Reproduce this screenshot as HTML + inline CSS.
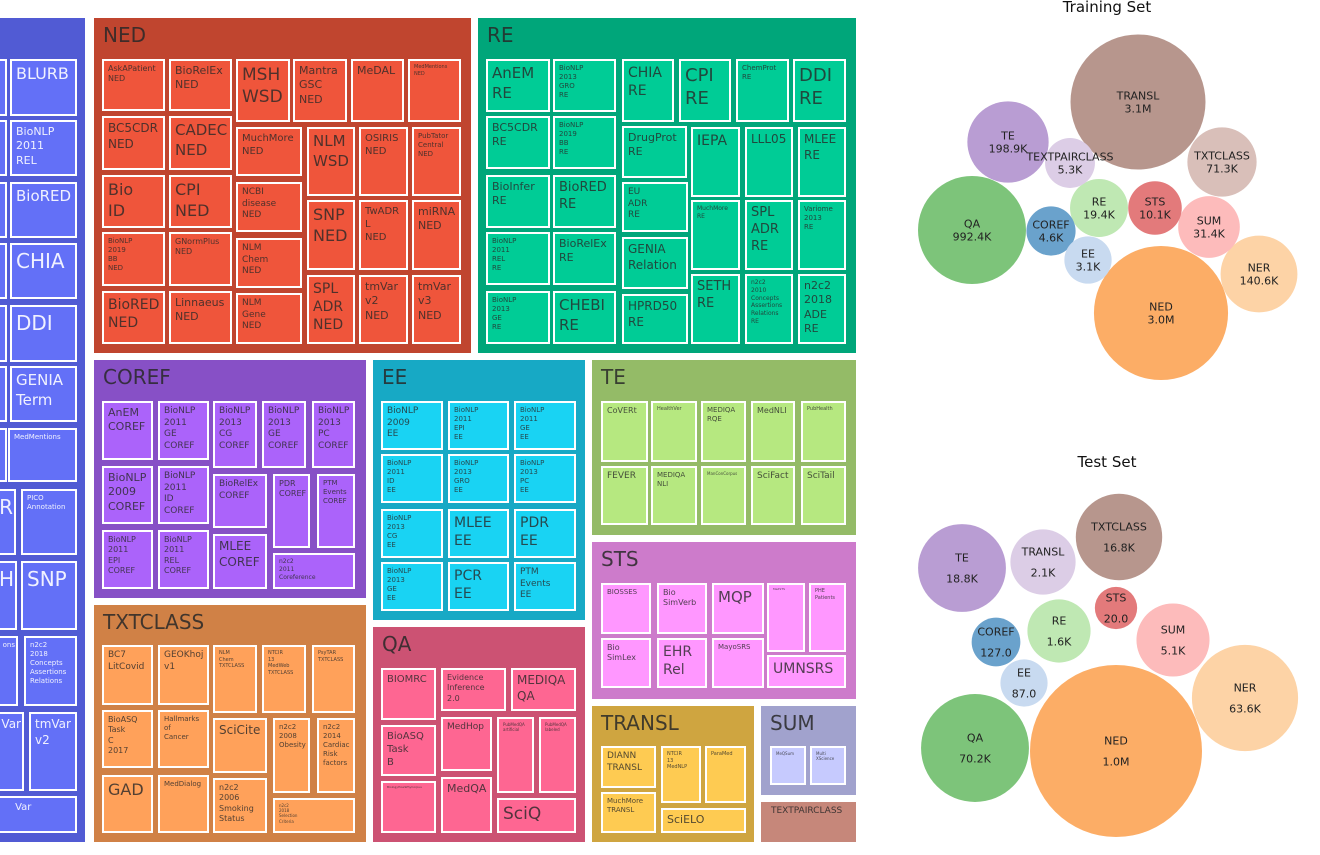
<!DOCTYPE html>
<html><head><meta charset="utf-8">
<style>
html,body{margin:0;padding:0;background:#fff;}
body{width:1320px;height:855px;position:relative;overflow:hidden;font-family:"DejaVu Sans","Liberation Sans",sans-serif;}
.g{position:absolute;box-sizing:border-box;}
.gt{position:absolute;left:9px;top:5px;font-size:20px;color:rgba(40,40,40,0.85);white-space:nowrap;}
.c{position:absolute;box-sizing:border-box;border:2px solid #fff;overflow:hidden;padding:3px 4px;line-height:1.3;color:rgba(40,40,40,0.8);white-space:pre;}
.c.ra{text-align:right;padding-right:1px;}
#bub{position:absolute;left:880px;top:0;}
</style></head><body>
<div id="tree"></div>
<svg id="bub" width="440" height="855"></svg>
<script>
// ---- treemap layout (group rectangles and tiles) ----
const groups=[
 {n:"NER",r:[-10,18,85,842],bg:"#515bd4",cc:"#6370f7",tc:"rgba(255,255,255,0.9)",title:"",kids:[
  [10,59,77,116,"BLURB",16],[-5,59,5,116,"",9],[10,120,77,176,"BioNLP\n2011\nREL",11],[-5,120,5,176,"",9],
  [10,182,77,238,"BioRED",15],[-5,182,5,238,"",9],[10,243,77,299,"CHIA",20],[-5,243,5,299,"",9],
  [10,305,77,362,"DDI",20],[-5,305,5,362,"",9],[10,366,77,422,"GENIA\nTerm",15],[-5,366,5,422,"",9],
  [8,428,77,482,"MedMentions",7],[-5,428,3,482,"",7],[-10,489,16,555,"R",20,1],[21,489,77,555,"PICO\nAnnotation",7],
  [-10,561,17,630,"H",20,1],[21,561,77,630,"SNP",20],[-10,636,18,706,"ons",7,1],[24,636,77,706,"n2c2\n2018\nConcepts\nAssertions\nRelations",7],
  [-10,712,24,791,"Var",12,1],[29,712,77,791,"tmVar\nv2",12],[-10,796,77,833,"      Var",10]]},
 {n:"NED",r:[94,18,471,353],bg:"#c0452f",cc:"#ef553b",title:"NED",kids:[
  [102,59,165,111,"AskAPatient\nNED",8],[102,116,165,170,"BC5CDR\nNED",12],[102,175,165,228,"Bio\nID",16],[102,232,165,286,"BioNLP\n2019\nBB\nNED",7],[102,291,165,344,"BioRED\nNED",14],
  [169,59,232,111,"BioRelEx\nNED",11],[169,116,232,170,"CADEC\nNED",15],[169,175,232,228,"CPI\nNED",16],[169,232,232,286,"GNormPlus\nNED",8],[169,291,232,344,"Linnaeus\nNED",11],
  [236,59,290,122,"MSH\nWSD",17],[293,59,347,122,"Mantra\nGSC\nNED",11],[351,59,404,122,"MeDAL",11],[408,59,461,122,"MedMentions\nNED",5],
  [236,127,302,176,"MuchMore\nNED",10],[236,182,302,232,"NCBI\ndisease\nNED",9],[236,238,302,288,"NLM\nChem\nNED",9],[236,293,302,344,"NLM\nGene\nNED",9],
  [307,127,355,196,"NLM\nWSD",15],[359,127,408,196,"OSIRIS\nNED",10],[412,127,461,196,"PubTator\nCentral\nNED",7],
  [307,200,355,270,"SNP\nNED",16],[359,200,408,270,"TwADR\nL\nNED",10],[412,200,461,270,"miRNA\nNED",11],
  [307,275,355,344,"SPL\nADR\nNED",14],[359,275,408,344,"tmVar\nv2\nNED",11],[412,275,461,344,"tmVar\nv3\nNED",11]]},
 {n:"RE",r:[478,18,856,353],bg:"#00a67a",cc:"#00cc96",title:"RE",kids:[
  [486,59,550,112,"AnEM\nRE",15],[486,116,550,169,"BC5CDR\nRE",11],[486,175,550,228,"BioInfer\nRE",11],[486,232,550,285,"BioNLP\n2011\nREL\nRE",7],[486,291,550,344,"BioNLP\n2013\nGE\nRE",7],
  [553,59,616,112,"BioNLP\n2013\nGRO\nRE",7],[553,116,616,169,"BioNLP\n2019\nBB\nRE",7],[553,175,616,228,"BioRED\nRE",13],[553,232,616,285,"BioRelEx\nRE",11],[553,291,616,344,"CHEBI\nRE",15],
  [622,59,674,122,"CHIA\nRE",14],[679,59,731,122,"CPI\nRE",18],[736,59,789,122,"ChemProt\nRE",7],[793,59,846,122,"DDI\nRE",18],
  [622,126,687,178,"DrugProt\nRE",11],[622,182,688,232,"EU\nADR\nRE",9],[622,237,688,289,"GENIA\nRelation",12],[622,294,688,344,"HPRD50\nRE",12],
  [691,127,740,197,"IEPA",14],[745,127,793,197,"LLL05",12],[798,127,846,197,"MLEE\nRE",12],
  [691,200,740,270,"MuchMore\nRE",6],[745,200,793,270,"SPL\nADR\nRE",13],[798,200,846,270,"Variome\n2013\nRE",7],
  [691,274,740,344,"SETH\nRE",13],[745,274,793,344,"n2c2\n2010\nConcepts\nAssertions\nRelations\nRE",6],[798,274,846,344,"n2c2\n2018\nADE\nRE",11]]},
 {n:"COREF",r:[94,360,366,598],bg:"#8750c6",cc:"#ab63fa",title:"COREF",kids:[
  [102,401,153,460,"AnEM\nCOREF",11],[158,401,209,460,"BioNLP\n2011\nGE\nCOREF",9],[213,401,257,468,"BioNLP\n2013\nCG\nCOREF",9],[262,401,306,468,"BioNLP\n2013\nGE\nCOREF",9],[312,401,355,468,"BioNLP\n2013\nPC\nCOREF",9],
  [102,466,153,524,"BioNLP\n2009\nCOREF",11],[158,466,209,524,"BioNLP\n2011\nID\nCOREF",9],[102,530,153,589,"BioNLP\n2011\nEPI\nCOREF",8],[158,530,209,589,"BioNLP\n2011\nREL\nCOREF",8],
  [213,474,267,528,"BioRelEx\nCOREF",9],[213,534,267,589,"MLEE\nCOREF",12],[273,474,310,548,"PDR\nCOREF",8],[317,474,355,548,"PTM\nEvents\nCOREF",7],[273,553,355,589,"n2c2\n2011\nCoreference",6]]},
 {n:"TXTCLASS",r:[94,605,366,842],bg:"#d08146",cc:"#ffa15a",title:"TXTCLASS",kids:[
  [102,645,153,705,"BC7\nLitCovid",9],[158,645,209,705,"GEOKhoj\nv1",9],[213,645,257,713,"NLM\nChem\nTXTCLASS",5],[262,645,306,713,"NTCIR\n13\nMedWeb\nTXTCLASS",5],[312,645,355,713,"PsyTAR\nTXTCLASS",5],
  [102,710,153,768,"BioASQ\nTask\nC\n2017",8],[158,710,209,768,"Hallmarks\nof\nCancer",7],[102,775,153,833,"GAD",16],[158,775,209,833,"MedDialog",7],
  [213,718,267,773,"SciCite",12],[213,778,267,833,"n2c2\n2006\nSmoking\nStatus",8],[273,718,310,793,"n2c2\n2008\nObesity",7],[317,718,355,793,"n2c2\n2014\nCardiac\nRisk\nfactors",7],[273,798,355,833,"n2c2\n2018\nSelection\nCriteria",4]]},
 {n:"EE",r:[373,360,585,620],bg:"#17a9c5",cc:"#19d3f3",title:"EE",kids:[
  [381,401,443,450,"BioNLP\n2009\nEE",9],[448,401,509,450,"BioNLP\n2011\nEPI\nEE",7],[514,401,576,450,"BioNLP\n2011\nGE\nEE",7],
  [381,454,443,503,"BioNLP\n2011\nID\nEE",7],[448,454,509,503,"BioNLP\n2013\nGRO\nEE",7],[514,454,576,503,"BioNLP\n2013\nPC\nEE",7],
  [381,509,443,558,"BioNLP\n2013\nCG\nEE",7],[448,509,509,558,"MLEE\nEE",14],[514,509,576,558,"PDR\nEE",14],
  [381,562,443,611,"BioNLP\n2013\nGE\nEE",7],[448,562,509,611,"PCR\nEE",14],[514,562,576,611,"PTM\nEvents\nEE",9]]},
 {n:"QA",r:[373,627,585,842],bg:"#cc5273",cc:"#fe6692",title:"QA",kids:[
  [381,668,436,720,"BIOMRC",10],[441,668,506,711,"Evidence\nInference\n2.0",8],[511,668,576,711,"MEDIQA\nQA",12],
  [381,725,436,776,"BioASQ\nTask\nB",10],[381,781,436,833,"BiologyHowWhyCorpus",3],[441,717,492,771,"MedHop",9],[441,777,492,833,"MedQA",11],
  [497,717,534,793,"PubMedQA\nartificial",4],[539,717,576,793,"PubMedQA\nlabeled",4],[497,798,576,833,"SciQ",17]]},
 {n:"TE",r:[592,360,856,535],bg:"#94bb67",cc:"#b6e880",title:"TE",kids:[
  [601,401,648,462,"CoVERt",8],[651,401,697,462,"HealthVer",5],[701,401,746,462,"MEDIQA\nRQE",7],[751,401,795,462,"MedNLI",8],[801,401,846,462,"PubHealth",5],
  [601,466,648,525,"FEVER",9],[651,466,697,525,"MEDIQA\nNLI",7],[701,466,746,525,"ManConCorpus",4],[751,466,795,525,"SciFact",9],[801,466,846,525,"SciTail",9]]},
 {n:"STS",r:[592,542,856,699],bg:"#cd7bcb",cc:"#ff97ff",title:"STS",kids:[
  [601,583,651,634,"BIOSSES",7],[657,583,707,634,"Bio\nSimVerb",8],[712,583,764,634,"MQP",15],[767,583,805,652,"MedSTS",3],[809,583,846,652,"PHE\nPatients",5],
  [601,638,651,688,"Bio\nSimLex",8],[657,638,707,688,"EHR\nRel",14],[712,638,764,688,"MayoSRS",7],[767,655,846,688,"UMNSRS",14]]},
 {n:"TRANSL",r:[592,706,754,842],bg:"#cfa540",cc:"#fecb52",title:"TRANSL",kids:[
  [601,746,656,788,"DIANN\nTRANSL",9],[601,792,656,833,"MuchMore\nTRANSL",7],[661,746,701,803,"NTCIR\n13\nMedNLP",5],[705,746,746,803,"ParaMed",5],[661,808,746,833,"SciELO",11]]},
 {n:"SUM",r:[761,706,856,795],bg:"#a1a2cd",cc:"#c6cafe",title:"SUM",kids:[
  [770,746,806,785,"MeQSum",4],[810,746,846,785,"Multi\nXScience",4]]},
 {n:"TEXTPAIRCLASS",r:[761,802,856,842],bg:"#c6877a",cc:"#c6877a",title:"",kids:[]}
];
const tree=document.getElementById('tree');
groups.forEach(g=>{
  const d=document.createElement('div');d.className='g';
  
  
  const [x1,y1,x2,y2]=g.r;
  Object.assign(d.style,{left:x1+'px',top:y1+'px',width:(x2-x1)+'px',height:(y2-y1)+'px',background:g.bg});
  if(g.title){const t=document.createElement('div');t.className='gt';t.textContent=g.title;
    
    
    d.appendChild(t);}
  if(g.n==="TEXTPAIRCLASS"){const t=document.createElement('div');t.className='gt';t.textContent='TEXTPAIRCLASS';
    t.style.fontSize='9px';t.style.left='10px';t.style.top='4px';
    
    
    d.appendChild(t);}
  g.kids.forEach(k=>{
    const c=document.createElement('div');c.className='c'+(k[6]?' ra':'');
    
    
    Object.assign(c.style,{left:(k[0]-x1)+'px',top:(k[1]-y1)+'px',width:(k[2]-k[0])+'px',height:(k[3]-k[1])+'px',background:g.cc,fontSize:k[5]+'px'});
    if(g.tc)c.style.color=g.tc;
    c.textContent=k[4];d.appendChild(c);
  });
  tree.appendChild(d);
});

// ---- bubble chart data ----
const trainCats=["TRANSL","NED","QA","TE","NER","TXTCLASS","SUM","RE","STS","TEXTPAIRCLASS","COREF","EE"];
const trainVals=[3100000,3000000,992400,198900,140600,71300,31400,19400,10100,5300,4600,3100];
const trainLabels=["3.1M","3.0M","992.4K","198.9K","140.6K","71.3K","31.4K","19.4K","10.1K","5.3K","4.6K","3.1K"];
const testCats=["NED","QA","NER","TE","TXTCLASS","SUM","TRANSL","RE","COREF","EE","STS"];
const testVals=[1000000,70200,63600,18800,16800,5100,2100,1600,127,87,20];
const testLabels=["1.0M","70.2K","63.6K","18.8K","16.8K","5.1K","2.1K","1.6K","127.0","87.0","20.0"];
// packing layout (centres, svg-local coords)
const trainPos={TRANSL:[258,102],NED:[281,313],QA:[92,230],TE:[128,142],NER:[379,274],TXTCLASS:[342,162],SUM:[329,227],RE:[219,208],STS:[275,208],TEXTPAIRCLASS:[190,163],COREF:[171,231],EE:[208,260]};
const testPos={NED:[236,751],QA:[95,748],NER:[365,698],TE:[82,568],TXTCLASS:[239,537],SUM:[293,640],TRANSL:[163,562],RE:[179,631],COREF:[116,642],EE:[144,683],STS:[236,608]};
const colors={TRANSL:"#b7968d",NED:"#fcad66",QA:"#7dc47a",TE:"#b99dd3",NER:"#fdd3a6",TXTCLASS:"#d9bfb9",SUM:"#fdbbbb",RE:"#bfe8b3",STS:"#e37a7b",TEXTPAIRCLASS:"#dccde6",COREF:"#6aa2cc",EE:"#c8daf0"};
const testColors=Object.assign({},colors,{TXTCLASS:"#b7968d",TRANSL:"#dccde6"});
const NS="http://www.w3.org/2000/svg";
const svg=document.getElementById('bub');
function rScale(v,vmax,rmin,rmax,p){return rmin+(rmax-rmin)*Math.pow(v/vmax,p);}
function title(txt,y){const t=document.createElementNS(NS,'text');t.setAttribute('x',227);t.setAttribute('y',y);
  t.setAttribute('text-anchor','middle');t.setAttribute('font-size','15');t.setAttribute('fill','#111');t.textContent=txt;
  
  
  svg.appendChild(t);}
function draw(cats,vals,labels,pos,cols,rmin,rmax,p,gap,fs){
  const vmax=Math.max(...vals);
  cats.forEach((c,i)=>{
    const [cx,cy]=pos[c];const r=rScale(vals[i],vmax,rmin,rmax,p);
    const ci=document.createElementNS(NS,'circle');
    ci.setAttribute('cx',cx);ci.setAttribute('cy',cy);ci.setAttribute('r',r);ci.setAttribute('fill',cols[c]);
    
    
    svg.appendChild(ci);
    [c,labels[i]].forEach((s,j)=>{
      const t=document.createElementNS(NS,'text');t.setAttribute('x',cx);t.setAttribute('y',cy-gap/2+j*gap+4);
      t.setAttribute('text-anchor','middle');t.setAttribute('font-size',fs);t.setAttribute('fill','#222');t.textContent=s;
      
      
      svg.appendChild(t);});
  });
}
title("Training Set",12);
draw(trainCats,trainVals,trainLabels,trainPos,colors,15,67.5,0.261,13,11);
title("Test Set",467);
draw(testCats,testVals,testLabels,testPos,testColors,15,86,0.226,21,11);
</script>
</body></html>
